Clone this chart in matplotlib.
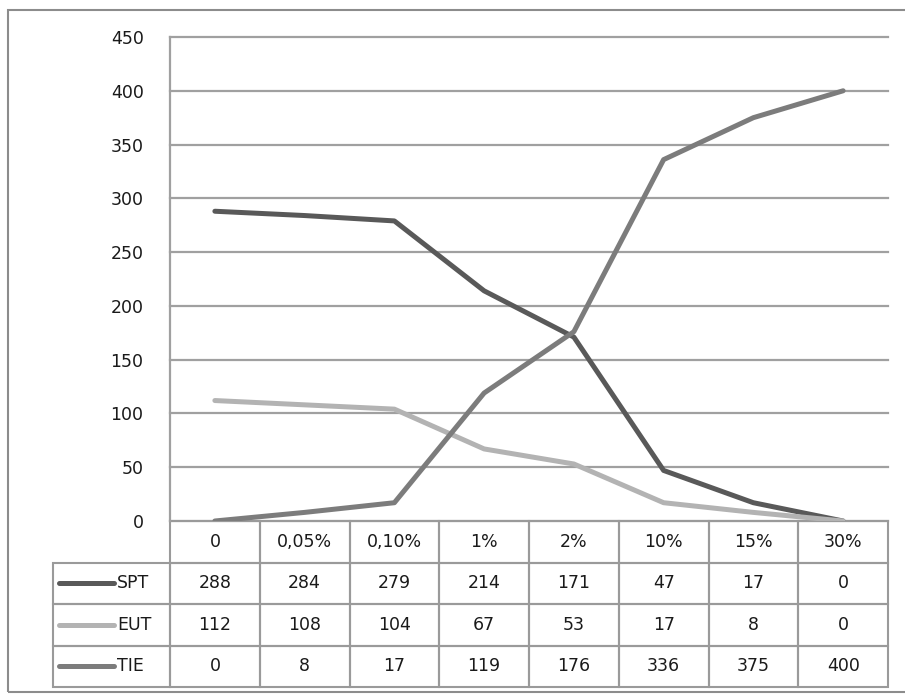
import matplotlib
matplotlib.use("Agg")
import matplotlib.pyplot as plt
from matplotlib.patches import Rectangle
import matplotlib.transforms as mtransforms

categories = ["0", "0,05%", "0,10%", "1%", "2%", "10%", "15%", "30%"]
series_names = ["SPT", "EUT", "TIE"]
spt = [288, 284, 279, 214, 171, 47, 17, 0]
eut = [112, 108, 104, 67, 53, 17, 8, 0]
tie = [0, 8, 17, 119, 176, 336, 375, 400]
yticks = [0, 50, 100, 150, 200, 250, 300, 350, 400, 450]

colors = {"SPT": "#595959", "EUT": "#b3b3b3", "TIE": "#7c7c7c"}
values = {"SPT": spt, "EUT": eut, "TIE": tie}

W, H = 905, 696
fig = plt.figure(figsize=(W / 100, H / 100), dpi=100)
fig.patch.set_facecolor("white")

# outer chart border
fig.add_artist(Rectangle((8 / W, 1 - 692 / H), (W + 20 - 8) / W, (692 - 10) / H,
                         transform=fig.transFigure, fill=False,
                         edgecolor="#8c8c8c", linewidth=1.5, clip_on=True))

left, right, top, bottom = 170, 888, 37, 521
ax = fig.add_axes([left / W, 1 - bottom / H, (right - left) / W, (bottom - top) / H])
n = len(categories)
x = list(range(n))
ax.set_xlim(-0.5, n - 0.5)
ax.set_ylim(0, 450)
ax.set_yticks(yticks)
ax.set_xticks([])
fs = 12.5
ax.tick_params(axis="y", length=0, pad=19, labelsize=fs, labelcolor="#1a1a1a")
for s in ["top", "right", "bottom"]:
    ax.spines[s].set_visible(False)
ax.spines["left"].set_color("#a0a0a0")
ax.spines["left"].set_linewidth(1.6)
ax.yaxis.grid(True, color="#a0a0a0", linewidth=1.6)
for gl in ax.yaxis.get_gridlines():
    gl.set_clip_on(False)
ax.set_axisbelow(True)

for name in series_names:
    ax.plot(x, values[name], color=colors[name], linewidth=3.6,
            solid_capstyle="round", solid_joinstyle="round", zorder=3)

# data table below the plot
trans = mtransforms.blended_transform_factory(ax.transData, ax.transAxes)
row_h = 41.5 / (bottom - top)
colw = (right - left) / n
label_left = -0.5 - (left - 53) / colw
grid_kw = dict(fill=False, edgecolor="#9a9a9a", linewidth=1.5, transform=trans, clip_on=False)
# header row
for i, c in enumerate(categories):
    ax.add_patch(Rectangle((i - 0.5, -row_h), 1, row_h, **grid_kw))
    ax.text(i, -row_h / 2, c, transform=trans, ha="center", va="center",
            fontsize=fs, color="#1a1a1a", clip_on=False)
for r, name in enumerate(series_names):
    y0 = -row_h * (r + 2)
    ax.add_patch(Rectangle((label_left, y0), -0.5 - label_left, row_h, **grid_kw))
    ax.plot([label_left + 6 / colw, label_left + 61 / colw], [y0 + row_h / 2] * 2,
            transform=trans, color=colors[name], linewidth=3.6,
            solid_capstyle="round", clip_on=False)
    ax.text(label_left + 64 / colw, y0 + row_h / 2, name, transform=trans, ha="left", va="center",
            fontsize=fs, color="#1a1a1a", clip_on=False)
    for i, v in enumerate(values[name]):
        ax.add_patch(Rectangle((i - 0.5, y0), 1, row_h, **grid_kw))
        ax.text(i, y0 + row_h / 2, str(v), transform=trans, ha="center", va="center",
                fontsize=fs, color="#1a1a1a", clip_on=False)

fig.savefig("out.png", dpi=100, facecolor="white")
